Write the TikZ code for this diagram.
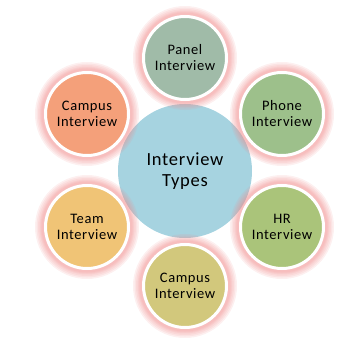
\documentclass[tikz,border=0pt]{standalone}
\usepackage{fontspec}
\setmainfont{Carlito}[LetterSpace=4]
\definecolor{glowpink}{HTML}{F08C8C}
\definecolor{hubblue}{HTML}{A6D3E0}
\definecolor{panelgreen}{HTML}{A0BBA8}
\definecolor{phonegreen}{HTML}{9DC08B}
\definecolor{hrgreen}{HTML}{AAC47A}
\definecolor{campusorange}{HTML}{F4A07A}
\definecolor{teamyellow}{HTML}{F0C476}
\definecolor{campusolive}{HTML}{D2C87C}
\tikzset{
    glow/.style={preaction={draw=glowpink, line width=#1, draw opacity=0.13}},
    petal/.style={circle, minimum size=83pt, inner sep=0pt, draw=white, line width=3pt,
        align=center, font=\fontsize{14.5}{16}\selectfont,
        glow=21pt, glow=18pt, glow=15pt, glow=12pt, glow=10pt, glow=8pt},
    hub/.style={circle, minimum size=134pt, inner sep=0pt, fill=hubblue,
        align=center, font=\fontsize{18.5}{21}\selectfont}
}

\begin{document}
\begin{tikzpicture}[x=1pt, y=-1pt]
    \useasboundingbox (0,0) rectangle (346,347);
    \node [hub] (types) at (185,171) {Interview\\Types};
    \node [petal, fill=panelgreen] (panel) at (185,58) {Panel\\Interview};
    \node [petal, fill=phonegreen] (phone) at (282,114) {Phone\\Interview};
    \node [petal, fill=hrgreen] (hr) at (282,227) {HR\\Interview};
    \node [petal, fill=campusolive] (campusb) at (185,286) {Campus\\Interview};
    \node [petal, fill=teamyellow] (team) at (87,227) {Team\\Interview};
    \node [petal, fill=campusorange] (campusa) at (87,114) {Campus\\Interview};
\end{tikzpicture}
\end{document}
